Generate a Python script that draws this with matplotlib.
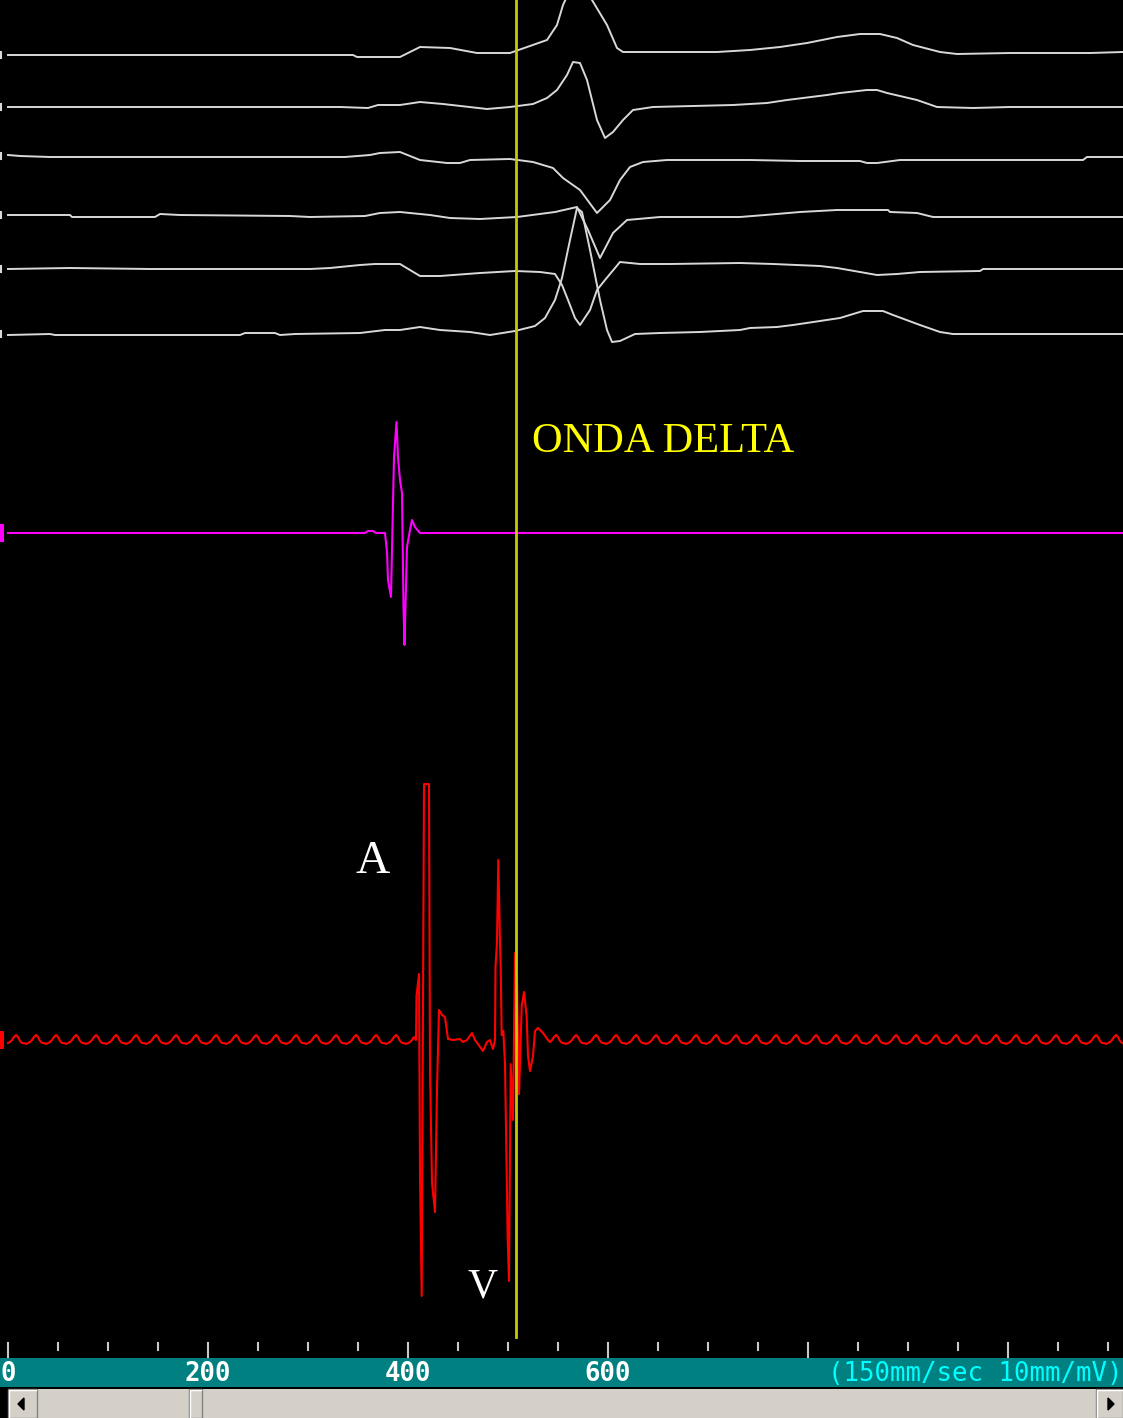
import numpy as np
import matplotlib
matplotlib.use("Agg")
from matplotlib import pyplot as plt
from matplotlib.patches import Rectangle, Polygon

# --- data (time in ms, amplitude in screen units, up = +) ---
lead1_t = [0, 345, 349, 392, 412, 442, 469, 502, 539, 549, 555, 569, 584, 599, 609, 615, 709,
           742, 772, 799, 829, 852, 872, 889, 905, 932, 949, 1002, 1082, 1115]
lead1_v = [0, 0, -2, -2, 8, 7, 2, 2, 15, 30, 50, 80, 55, 30, 7, 3, 3,
           5, 8, 12, 18, 21, 21, 17, 10, 3, 1, 2, 2, 3]

lead2_t = [0, 332, 360, 370, 392, 412, 435, 479, 502, 525, 539, 549, 559, 565, 572, 579, 589,
           597, 605, 615, 625, 645, 725, 759, 779, 819, 832, 859, 869, 879, 909, 929, 965, 1002, 1115]
lead2_v = [0, 0, -1, 2, 2, 5, 3, -2, 0, 3, 9, 17, 32, 45, 44, 27, -13,
           -31, -25, -13, -3, 0, 2, 4, 7, 12, 14, 17, 17, 14, 7, 0, -1, 0, 0]

lead3_t = [0, 12, 42, 337, 362, 372, 392, 412, 439, 452, 462, 502, 525, 545, 555, 572, 589,
           602, 612, 622, 635, 659, 742, 792, 852, 859, 869, 892, 1075, 1079, 1115]
lead3_v = [1, 0, -1, -1, 1, 3, 4, -4, -7, -7, -4, -3, -6, -12, -22, -34, -57,
           -44, -24, -11, -6, -4, -4, -5, -5, -7, -7, -4, -4, -1, -1]

lead4_t = [0, 62, 64, 147, 152, 172, 282, 302, 357, 372, 392, 422, 442, 472, 509, 547, 569,
           580, 592, 605, 619, 652, 732, 757, 792, 829, 880, 882, 909, 925, 1115]
lead4_v = [0, 0, -2, -2, 1, 0, -1, -2, -1, 2, 3, 0, -3, -4, -2, 3, 8,
           -15, -43, -18, -5, -2, -2, 0, 3, 5, 5, 3, 2, -2, -2]

lead5_t = [0, 62, 142, 302, 322, 352, 367, 392, 412, 432, 472, 507, 532, 547, 554, 560, 567,
           572, 582, 589, 597, 612, 632, 662, 732, 765, 812, 829, 852, 869, 889, 912, 972, 975, 1115]
lead5_v = [0, 1, 0, 0, 1, 4, 5, 5, -7, -7, -4, -2, -3, -5, -16, -31, -49,
           -56, -41, -21, -11, 7, 5, 5, 6, 5, 3, 1, -3, -6, -5, -3, -2, 0, 0]

lead6_t = [0, 42, 47, 232, 237, 267, 272, 287, 352, 377, 392, 412, 432, 462, 482, 507, 527,
           537, 547, 554, 562, 569, 574, 582, 592, 599, 604, 612, 627, 652, 692, 732, 742,
           769, 785, 812, 832, 855, 875, 885, 912, 932, 945, 1115]
lead6_v = [-1, 0, -1, -1, 1, 1, -1, 0, 1, 4, 4, 7, 4, 2, -1, 3, 8,
           16, 34, 56, 94, 126, 122, 84, 34, 4, -8, -7, 0, 1, 2, 4, 6,
           7, 9, 13, 16, 23, 23, 19, 9, 2, 0, 0]

# intracavitary channel (magenta)
hra_t = [0, 357, 360, 365, 368, 377, 379, 380, 383, 385, 386, 388.5, 390, 392, 394, 395.5,
         396.5, 399, 402, 404, 407, 412, 1115]
hra_v = [0, 0, 2, 2, 0, 0, -19, -47, -64, 30, 76, 111, 76, 53, 40, -74,
         -112, -14, 3, 13, 6, 0, 0]

# His / ablation channel (red): one cycle of the 50 Hz pickup + the A-V complex
hum_cycle = [-3, -2, 0, 3, 5, 3, -1, -3, -3, -4]   # every 2 ms
his_t = [408, 408.5, 411, 412, 413.7, 416, 421, 422, 424, 427, 429, 431, 434, 437, 440,
         445, 452, 455, 459, 464, 467, 475, 479, 482, 485, 487, 487.5, 489, 490.3, 492,
         492.7, 493.7, 495.3, 497, 498.7, 499.7, 501, 502.7, 505, 507, 509, 511, 513.7,
         516, 518.7, 520, 522, 525, 527, 530, 535, 540]
his_v = [0, 44, 66, -134, -256, 256, 256, -29, -143, -172, -49, 30, 25, 23, 1,
         0, 1, -2, 0, 7, 0, -11, -2, 0, -9, 0, 73, 98, 180, 98,
         73, 5, 9, -24, -138, -199, -241, -24, -80, 87, 60, -54, 34,
         48, 23, -16, -31, -16, 9, 12, 7, 0]

ruler_labels = [0, 200, 400, 600]

# --- layout (screen pixels) ---
W, H = 1123, 1418
X0 = 8                       # pixel where t = 0
white_base = [55, 107, 156, 215, 269, 334]
hra_base = 533
his_base = 1040
cursor_t = 508

fig = plt.figure(figsize=(W / 100, H / 100), dpi=100, facecolor="black")
ax = fig.add_axes([0, 0, 1, 1])
ax.set_facecolor("black")
ax.set_xlim(-X0, W - X0)
ax.set_ylim(H, 0)
ax.axis("off")

leads = [(lead1_t, lead1_v), (lead2_t, lead2_v), (lead3_t, lead3_v),
         (lead4_t, lead4_v), (lead5_t, lead5_v), (lead6_t, lead6_v)]
for (t, v), base in zip(leads, white_base):
    ax.plot(t, base - np.array(v), color="#d8d8d8", lw=1.4, zorder=2)
    # remnants of the channel labels at the left edge
    ax.plot([-7, -7], [base - 3, base + 3], color="#d8d8d8", lw=1.5, zorder=2)

ax.plot(hra_t, hra_base - np.array(hra_v), color="#ff00ff", lw=1.5, zorder=2)
ax.add_patch(Rectangle((-8, hra_base - 9), 4, 18, color="#ff00ff", lw=0, zorder=2))

# red channel: hum before, complex, hum after
pre_t = np.arange(0, 408, 2)
pre_v = np.tile(hum_cycle, len(pre_t) // len(hum_cycle) + 1)[:len(pre_t)]
post_t = np.arange(542, 1116, 2)
post_v = np.tile(hum_cycle, len(post_t) // len(hum_cycle) + 1)[1:len(post_t) + 1]
red_t = np.concatenate([pre_t, his_t, post_t])
red_v = np.concatenate([pre_v, his_v, post_v])
ax.plot(red_t, his_base - red_v, color="#ff0000", lw=1.5, zorder=2)
ax.add_patch(Rectangle((-8, his_base - 9), 4, 18, color="#ff0000", lw=0, zorder=2))

# cursor
ax.plot([cursor_t, cursor_t], [0, 1337], color="#c8c800", lw=2, zorder=3)

ax.text(524, 452, "ONDA DELTA", color="#ffff00", fontsize=30.5,
        family="Liberation Serif", va="baseline", ha="left", zorder=4)
ax.text(348, 873, "A", color="white", fontsize=34,
        family="Liberation Serif", va="baseline", ha="left", zorder=4)
ax.text(460, 1298, "V", color="white", fontsize=30,
        family="Liberation Serif", va="baseline", ha="left", zorder=4)

# time ruler
for tk in np.arange(0, 1116, 50):
    y1 = 1357 if tk % 200 == 0 else 1350
    ax.plot([tk, tk], [1343, y1], color="#c8c8c8", lw=1.5, zorder=2)

ax.add_patch(Rectangle((-X0, 1358), W, 29, color="#008080", lw=0, zorder=1))
for lab in ruler_labels:
    ax.text(lab, 1374, str(lab), color="white", fontsize=18.5, family="DejaVu Sans Mono",
            weight="bold", ha="center", va="center", zorder=2)
ax.text(W - X0, 1374, "(150mm/sec 10mm/mV)", color="#00ffff", fontsize=18.5,
        family="DejaVu Sans Mono", ha="right", va="center", zorder=2)

# scroll bar
ax.add_patch(Rectangle((0, 1389), W - X0, 29, color="#d4d0c8", lw=0, zorder=1))
for bx, bw in [(0, 29), (181, 13), (1088, 27)]:
    ax.add_patch(Rectangle((bx, 1389), bw, 29, facecolor="#d4d0c8", edgecolor="#808080",
                           lw=1, zorder=2))
    ax.plot([bx + 1, bx + 1, bx + bw - 1], [1417, 1390, 1390], color="white", lw=1, zorder=3)
ax.add_patch(Polygon([[10, 1404], [16, 1398], [16, 1410]], color="black", zorder=3))
ax.add_patch(Polygon([[1106, 1404], [1100, 1398], [1100, 1410]], color="black", zorder=3))

fig.savefig("out.png", dpi=100, facecolor="black")
